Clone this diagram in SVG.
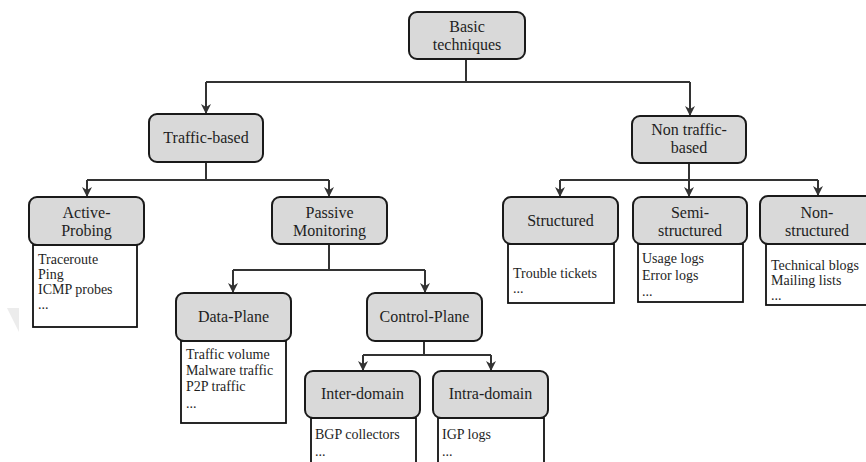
<svg xmlns="http://www.w3.org/2000/svg" width="866" height="462" viewBox="0 0 866 462">
  <style>
    .hd { fill: #d9d9d9; stroke: #1a1a1a; stroke-width: 2; }
    .ct { fill: #ffffff; stroke: #111111; stroke-width: 1.8; }
    .t  { font-family: "Liberation Serif", "Times New Roman", serif; font-size: 16px; fill: #1e1e1e; text-anchor: middle; }
    .c  { font-family: "Liberation Serif", "Times New Roman", serif; font-size: 14px; fill: #1e1e1e; }
    .ln { fill: none; stroke: #333333; stroke-width: 2; }
  </style>
  <defs>
    <marker id="arr" viewBox="0 0 10 10" refX="9" refY="5" markerWidth="10" markerHeight="10" markerUnits="userSpaceOnUse" orient="auto">
      <path d="M0,0 L10,5 L0,10 L3,5 z" fill="#333333"/>
    </marker>
  </defs>

  <rect width="866" height="462" fill="#ffffff"/>
  <!-- faint mark at left margin -->
  <polygon points="7,308 19,308 19,332" fill="#ececec"/>

  <g id="connectors">
    <path class="ln" d="M466,59 V82"/>
    <path class="ln" d="M206,82 H690"/>
    <path class="ln" d="M206,82 V113" marker-end="url(#arr)"/>
    <path class="ln" d="M690,82 V115" marker-end="url(#arr)"/>

    <path class="ln" d="M206,162 V180 M87,180 H329"/>
    <path class="ln" d="M87,180 V196" marker-end="url(#arr)"/>
    <path class="ln" d="M329,180 V196" marker-end="url(#arr)"/>

    <path class="ln" d="M689,163 V180 M560,180 H818"/>
    <path class="ln" d="M560,180 V196" marker-end="url(#arr)"/>
    <path class="ln" d="M689,180 V196" marker-end="url(#arr)"/>
    <path class="ln" d="M818,180 V195" marker-end="url(#arr)"/>

    <path class="ln" d="M329,244 V270 M233,270 H425"/>
    <path class="ln" d="M233,270 V292" marker-end="url(#arr)"/>
    <path class="ln" d="M425,270 V292" marker-end="url(#arr)"/>

    <path class="ln" d="M424,341 V355 M363,355 H491"/>
    <path class="ln" d="M363,355 V370" marker-end="url(#arr)"/>
    <path class="ln" d="M491,355 V370" marker-end="url(#arr)"/>
  </g>

  <g id="basic-techniques">
    <rect class="hd" x="409" y="12" width="116" height="47" rx="8"/>
    <text class="t" x="467" y="32">Basic</text>
    <text class="t" x="467" y="50">techniques</text>
  </g>

  <g id="traffic-based">
    <rect class="hd" x="149" y="114" width="114" height="48" rx="8"/>
    <text class="t" x="206" y="143">Traffic-based</text>
  </g>

  <g id="non-traffic-based">
    <rect class="hd" x="632" y="116" width="114" height="47" rx="8"/>
    <text class="t" x="689" y="135">Non traffic-</text>
    <text class="t" x="689" y="153">based</text>
  </g>

  <g id="active-probing">
    <rect class="ct" x="33" y="245" width="104" height="82"/>
    <rect class="hd" x="29" y="197" width="115" height="48" rx="8"/>
    <text class="t" x="86.5" y="218">Active-</text>
    <text class="t" x="86.5" y="236">Probing</text>
    <text class="c" x="38" y="264">Traceroute</text>
    <text class="c" x="38" y="279">Ping</text>
    <text class="c" x="38" y="294">ICMP probes</text>
    <text class="c" x="38" y="309">...</text>
  </g>

  <g id="passive-monitoring">
    <rect class="hd" x="272" y="197" width="115" height="47" rx="8"/>
    <text class="t" x="329.5" y="218">Passive</text>
    <text class="t" x="329.5" y="236">Monitoring</text>
  </g>

  <g id="data-plane">
    <rect class="ct" x="181" y="341" width="105" height="82"/>
    <rect class="hd" x="176" y="293" width="115" height="48" rx="8"/>
    <text class="t" x="233.5" y="322">Data-Plane</text>
    <text class="c" x="186" y="359">Traffic volume</text>
    <text class="c" x="186" y="375">Malware traffic</text>
    <text class="c" x="186" y="391">P2P traffic</text>
    <text class="c" x="186" y="408">...</text>
  </g>

  <g id="control-plane">
    <rect class="hd" x="367" y="293" width="115" height="48" rx="8"/>
    <text class="t" x="424.5" y="322">Control-Plane</text>
  </g>

  <g id="inter-domain">
    <rect class="ct" x="311" y="418" width="105" height="60"/>
    <rect class="hd" x="305" y="371" width="115" height="47" rx="8"/>
    <text class="t" x="362.5" y="399">Inter-domain</text>
    <text class="c" x="315" y="439">BGP collectors</text>
    <text class="c" x="315" y="456">...</text>
  </g>

  <g id="intra-domain">
    <rect class="ct" x="438" y="418" width="106" height="60"/>
    <rect class="hd" x="433" y="371" width="115" height="47" rx="8"/>
    <text class="t" x="490.5" y="399">Intra-domain</text>
    <text class="c" x="442" y="439">IGP logs</text>
    <text class="c" x="442" y="456">...</text>
  </g>

  <g id="structured">
    <rect class="ct" x="508" y="244" width="106" height="59"/>
    <rect class="hd" x="503" y="197" width="115" height="47" rx="8"/>
    <text class="t" x="560.5" y="226">Structured</text>
    <text class="c" x="513" y="278">Trouble tickets</text>
    <text class="c" x="513" y="293">...</text>
  </g>

  <g id="semi-structured">
    <rect class="ct" x="638" y="244" width="105" height="58"/>
    <rect class="hd" x="633" y="197" width="114" height="47" rx="8"/>
    <text class="t" x="690" y="218">Semi-</text>
    <text class="t" x="690" y="236">structured</text>
    <text class="c" x="642" y="263">Usage logs</text>
    <text class="c" x="642" y="280">Error logs</text>
    <text class="c" x="642" y="296">...</text>
  </g>

  <g id="non-structured">
    <rect class="ct" x="766" y="244" width="106" height="61"/>
    <rect class="hd" x="760" y="196" width="114" height="48" rx="8"/>
    <text class="t" x="817" y="218">Non-</text>
    <text class="t" x="817" y="236">structured</text>
    <text class="c" x="771" y="270">Technical blogs</text>
    <text class="c" x="771" y="285">Mailing lists</text>
    <text class="c" x="771" y="300">...</text>
  </g>
</svg>
